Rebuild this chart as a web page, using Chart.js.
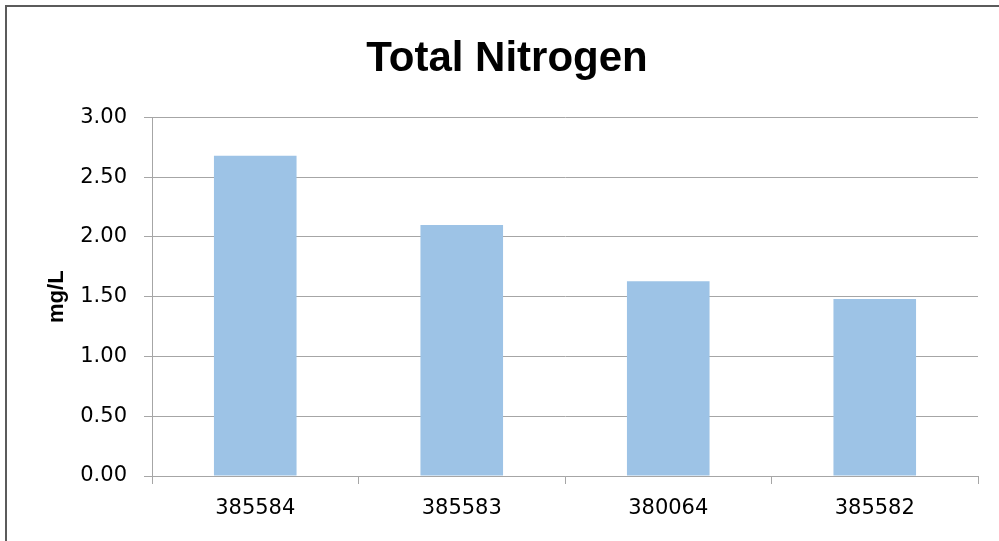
<!DOCTYPE html>
<html lang="en">
  <head>
    <meta charset="UTF-8" />
    <title>Total Nitrogen</title>
    <script src="https://cdn.jsdelivr.net/npm/chart.js"></script>
    <style>
      html, body {
        margin: 0;
        padding: 0;
        background: #ffffff;
      }
      .wrap {
        position: relative;
        width: 999px;
        height: 541px;
        overflow: hidden;
      }
      .frame {
        position: absolute;
        left: 5px;
        top: 5px;
        width: 1000px;
        height: 540px;
        border-left: 2px solid #5b5b5b;
        border-top: 2px solid #5b5b5b;
        pointer-events: none;
      }
    </style>
  </head>
  <body>
    <div class="wrap">
      <canvas id="tnChart" width="999" height="541"></canvas>
      <div class="frame"></div>
    </div>

    <script>
      const sites = ["385584", "385583", "380064", "385582"];
      const totalNitrogen = [2.68, 2.1, 1.63, 1.48];
      const yTicks = [0, 0.5, 1, 1.5, 2, 2.5, 3];

      const gridColor = "#a6a6a6";
      const tickFont = { family: "DejaVu Sans", size: 21 };

      new Chart(document.getElementById("tnChart"), {
        type: "bar",
        data: {
          labels: sites,
          datasets: [
            {
              label: "Total Nitrogen",
              data: totalNitrogen,
              backgroundColor: "#9dc3e6",
              borderWidth: 0,
              barPercentage: 0.4,
              categoryPercentage: 1.0,
            },
          ],
        },
        options: {
          responsive: false,
          animation: false,
          layout: { padding: { left: 15, right: 0, top: 0, bottom: 0 } },
          plugins: {
            legend: { display: false },
            tooltip: { enabled: false },
            title: {
              display: true,
              text: "Total Nitrogen",
              color: "#000000",
              font: { family: "Liberation Sans", size: 42, weight: "bold" },
              padding: { top: 34, bottom: 33 },
            },
          },
          scales: {
            x: {
              grid: {
                drawOnChartArea: false,
                drawTicks: true,
                tickLength: 8,
                color: gridColor,
              },
              border: { color: gridColor },
              ticks: { color: "#000000", font: tickFont, padding: 12 },
              afterFit: (scale) => {
                scale.height = 65;
              },
            },
            y: {
              min: 0,
              max: 3,
              afterBuildTicks: (scale) => {
                scale.ticks = yTicks.map((v) => ({ value: v }));
              },
              grid: { color: gridColor, tickLength: 8 },
              border: { color: gridColor },
              ticks: {
                color: "#000000",
                font: tickFont,
                padding: 17,
                callback: (v) => Number(v).toFixed(2),
              },
              title: {
                display: true,
                text: "mg/L",
                color: "#000000",
                font: { family: "Liberation Sans", size: 22, weight: "bold" },
                padding: { top: 29, bottom: 0 },
              },
              afterFit: (scale) => {
                scale.width = 137;
              },
            },
            // empty strip on the right so the plot ends at the same place
            right: {
              type: "linear",
              position: "right",
              display: true,
              grid: { display: false },
              border: { display: false },
              ticks: { display: false },
              afterFit: (scale) => {
                scale.width = 21;
              },
            },
          },
        },
      });
    </script>
  </body>
</html>
